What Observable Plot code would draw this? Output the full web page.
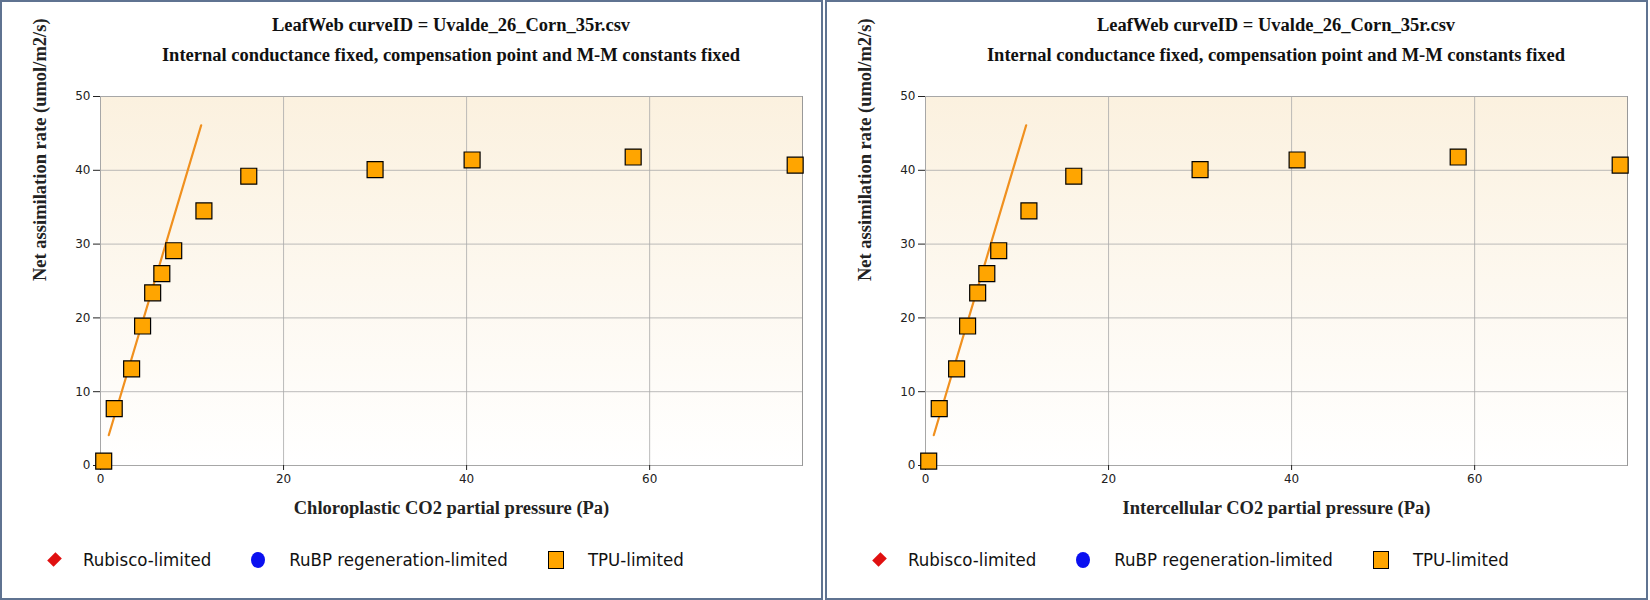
<!DOCTYPE html>
<html><head><meta charset="utf-8">
<script src="https://cdn.jsdelivr.net/npm/d3@7"></script>
<script src="https://cdn.jsdelivr.net/npm/@observablehq/plot@0.6"></script>
<style>
body{margin:0;background:#fff;width:1650px;height:600px;overflow:hidden;font-family:"DejaVu Sans",sans-serif}
#wrap{display:flex;gap:2px}
.panel{width:819px;height:596px;border:2px solid #5f7391;position:relative;background:#fff}
.title{position:absolute;top:8px;left:98px;width:702px;text-align:center;font:bold 18.5px "Liberation Serif",serif;line-height:30px;color:#111}
.legend{position:absolute;top:547px;left:48px;font:18.5px "DejaVu Sans Condensed","DejaVu Sans",sans-serif;display:flex;align-items:center;color:#111}
.legend span{display:inline-flex;align-items:center;margin-right:40px}
.legend i{display:inline-block;margin-right:24px}
</style></head><body>
<div id="wrap"></div>
<script>
const titleLine1 = "LeafWeb curveID = Uvalde_26_Corn_35r.csv";
const titleLine2 = "Internal conductance fixed, compensation point and M-M constants fixed";
const xLabels = ["Chloroplastic CO2 partial pressure (Pa)", "Intercellular CO2 partial pressure (Pa)"];
const yLabel = "Net assimilation rate (umol/m2/s)";
const xTicks = [0, 20, 40, 60];
const yTicks = [0, 10, 20, 30, 40, 50];
const ptX = [0.35, 1.5, 3.4, 4.6, 5.7, 6.7, 8.0, 11.3, 16.2, 30.0, 40.6, 58.2, 75.9];
const ptY = [0.6, 7.7, 13.1, 18.9, 23.4, 26.0, 29.1, 34.5, 39.2, 40.1, 41.4, 41.8, 40.7];
const lineX = [0.9, 11.0];
const lineY = [4.1, 46.1];
const legendNames = ["Rubisco-limited", "RuBP regeneration-limited", "TPU-limited"];

const pts = ptX.map((x, i) => ({x, y: ptY[i]}));
const line = lineX.map((x, i) => ({x, y: lineY[i]}));
const wrap = document.getElementById("wrap");

xLabels.forEach((xl, k) => {
  const p = document.createElement("div"); p.className = "panel";
  p.innerHTML = `<div class="title">${titleLine1}<br>${titleLine2}</div>`;
  const svg = Plot.plot({
    width: 819, height: 450,
    marginLeft: 98, marginRight: 19, marginTop: 24, marginBottom: 57,
    style: {fontFamily: "DejaVu Sans, sans-serif", fontSize: "12px", color: "#222", background: "transparent", overflow: "visible"},
    x: {domain: [0, 76.7], ticks: xTicks, label: null, tickSize: 5},
    y: {domain: [0, 50], ticks: yTicks, label: null, tickSize: 7},
    marks: [
      Plot.frame({fill: "url(#bgGrad" + k + ")", stroke: "#999"}),
      Plot.gridX(xTicks, {stroke: "#aaa", strokeOpacity: 0.8}),
      Plot.gridY(yTicks, {stroke: "#aaa", strokeOpacity: 0.8}),
      Plot.axisX({ticks: xTicks, tickSize: 5, label: null}),
      Plot.axisY({ticks: yTicks, tickSize: 7, label: null}),
      Plot.text([xl], {frameAnchor: "bottom", dy: 48, fontFamily: "Liberation Serif, serif", fontWeight: "bold", fontSize: 18.5}),
      Plot.text([yLabel], {frameAnchor: "left", dx: -60, rotate: -90, fontFamily: "Liberation Serif, serif", fontWeight: "bold", fontSize: 18.5}),
      Plot.line(line, {x: "x", y: "y", stroke: "#f0901e", strokeWidth: 2.2}),
      Plot.dot(pts, {x: "x", y: "y", symbol: "square", r: 9, fill: "#ffa500", stroke: "#000", strokeWidth: 1.2})
    ]
  });
  const ns = "http://www.w3.org/2000/svg";
  const defs = document.createElementNS(ns, "defs");
  defs.innerHTML = `<linearGradient id="bgGrad${k}" x1="0" y1="0" x2="0" y2="1"><stop offset="0" stop-color="#fbf1df"/><stop offset="1" stop-color="#ffffff"/></linearGradient>`;
  svg.insertBefore(defs, svg.firstChild);
  svg.style.position = "absolute"; svg.style.top = "70px"; svg.style.left = "0"; svg.style.overflow = "visible";
  p.appendChild(svg);
  const lg = document.createElement("div"); lg.className = "legend";
  lg.innerHTML =
    `<span><i style="width:9px;height:9px;background:#e01010;transform:rotate(45deg) scaleY(1.3)"></i>${legendNames[0]}</span>` +
    `<span><i style="width:14px;height:16px;border-radius:50%;background:#0a10f0"></i>${legendNames[1]}</span>` +
    `<span><i style="width:14px;height:16px;background:#ffa500;border:1px solid #000"></i>${legendNames[2]}</span>`;
  p.appendChild(lg);
  wrap.appendChild(p);
});
</script>
</body></html>
